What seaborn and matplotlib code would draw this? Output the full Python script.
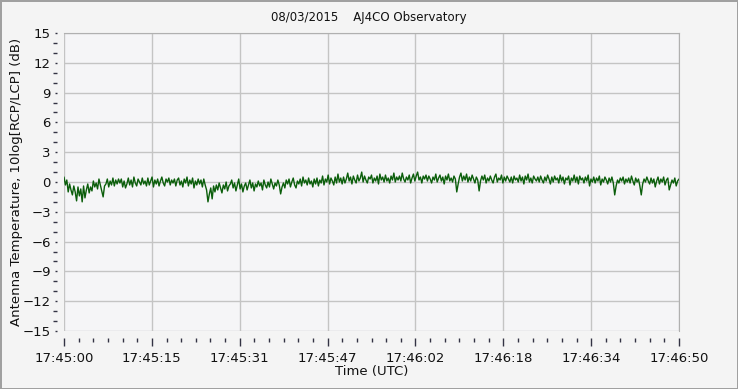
import numpy as np
import pandas as pd
import matplotlib
matplotlib.use("Agg")
import matplotlib.pyplot as plt
import seaborn as sns
from matplotlib.ticker import AutoMinorLocator, FixedLocator, FuncFormatter

# readings every 0.25 s (dB)
ratio_db = [
    0.5, -0.3, 0.2, -1.0, -0.2, -0.8, -1.3, -0.4, -1.0, -1.9, -0.5, -1.4, -0.7, -2.0, -0.4, -1.6, -0.8, -0.2, -1.1, -0.5,
    -0.9, 0.1, -0.5, -0.1, -0.7, 0.3, -0.3, -0.9, -1.5, -0.4, -0.2, 0.3, -0.5, 0.1, -0.3, 0.4, -0.4, 0.2, -0.2, 0.3,
    -0.1, 0.3, -0.5, 0.1, -0.6, -0.2, 0.4, -0.3, 0.2, -0.5, 0.5, -0.1, -0.4, 0.3, 0.0, -0.3, 0.4, -0.2, 0.1, -0.4,
    0.4, -0.3, 0.1, 0.5, -0.5, 0.2, -0.2, 0.3, -0.4, 0.1, 0.5, -0.1, -0.4, 0.3, 0.0, 0.4, -0.3, 0.2, -0.1, 0.3,
    -0.4, 0.2, 0.4, -0.3, 0.1, -0.5, 0.3, -0.1, 0.5, -0.4, 0.2, -0.2, 0.4, -0.6, 0.1, -0.3, 0.3, -0.2, 0.2, -0.5,
    0.3, -0.3, -0.8, -2.0, -1.2, -0.6, -1.7, -0.4, -1.0, -0.3, -0.8, -0.1, -0.6, -1.1, -0.3, -0.7, 0.0, -0.9, -0.4, -0.2,
    0.2, -0.6, -0.1, -0.9, -0.3, 0.3, -0.7, -0.2, -1.0, -0.4, -0.1, -0.8, -0.3, 0.2, -0.6, -0.1, -0.9, -0.2, -0.5, 0.1,
    -0.4, -0.1, -0.8, 0.2, -0.3, -0.6, 0.0, -0.5, 0.3, -0.2, -0.7, -0.1, -0.4, 0.2, -0.3, -1.2, -0.5, -0.1, -0.6, 0.2,
    -0.2, 0.3, -0.5, 0.0, 0.4, -0.3, -0.6, 0.1, -0.2, 0.3, -0.4, 0.5, -0.1, 0.2, -0.3, 0.4, -0.2, 0.1, -0.5, 0.3,
    -0.2, 0.4, -0.4, 0.2, -0.1, 0.6, -0.3, 0.3, 0.0, 0.7, -0.2, 0.4, 0.1, -0.3, 0.5, -0.1, 0.8, 0.0, 0.4, -0.2,
    0.5, -0.1, 0.3, 0.9, 0.1, 0.5, -0.2, 0.6, 0.2, -0.1, 0.7, 0.1, 0.4, 1.0, 0.0, 0.6, 0.2, -0.1, 0.5, 0.3,
    0.7, -0.1, 0.4, 0.1, 0.6, -0.2, 0.8, 0.2, 0.5, 0.0, 0.7, 0.1, 0.4, -0.1, 0.6, 0.2, 0.9, 0.0, 0.5, 0.2,
    0.6, 0.1, 0.9, 0.3, 0.0, 0.5, 0.2, 0.7, -0.1, 0.4, 0.8, 0.1, 0.6, 1.0, 0.2, 0.5, -0.1, 0.6, 0.3, 0.7,
    0.1, 0.6, 0.3, -0.1, 0.5, 0.2, 0.8, 0.0, 0.4, 0.7, 0.1, 0.5, -0.2, 0.6, 0.2, 0.8, 0.1, 0.4, 0.0, 0.6,
    0.3, -1.0, -0.2, 0.5, 0.9, 0.1, 0.6, 0.2, 0.8, 0.0, 0.5, 0.1, 0.7, 0.3, -0.1, 0.5, 0.2, -0.9, 0.1, 0.6,
    0.2, 0.7, -0.1, 0.4, 0.1, 0.6, 0.2, -0.1, 0.5, 0.8, 0.0, 0.4, 0.2, 0.7, -0.1, 0.5, 0.1, 0.6, 0.3, 0.0,
    0.5, -0.1, 0.6, 0.2, 0.4, 0.0, 0.7, 0.1, 0.5, -0.2, 0.6, 0.2, 0.8, 0.0, 0.4, -0.1, 0.6, 0.3, 0.1, 0.5,
    0.0, 0.6, 0.2, -0.1, 0.5, 0.1, 0.7, 0.3, -0.2, 0.5, 0.0, 0.6, 0.2, 0.4, -0.1, 0.7, 0.1, 0.5, -0.2, 0.4,
    0.2, 0.6, -0.3, 0.4, 0.1, 0.7, 0.0, 0.5, -0.2, 0.6, 0.2, 0.4, -0.1, 0.5, 0.1, 0.7, -0.4, 0.3, 0.0, 0.5,
    -0.1, 0.4, 0.1, 0.6, -0.3, 0.3, 0.0, 0.5, 0.2, -0.2, 0.4, 0.0, 0.5, -0.1, -1.3, -0.4, 0.2, -0.1, 0.4, 0.1,
    0.5, -0.2, 0.3, 0.0, 0.4, -0.1, 0.6, 0.1, -0.3, 0.4, 0.0, 0.3, -0.4, -1.3, -0.2, 0.3, 0.0, 0.5, 0.1, -0.2,
    0.4, -0.1, 0.3, -0.5, 0.1, 0.5, -0.2, 0.3, 0.0, 0.5, -0.3, 0.2, 0.4, -0.8, -0.3, 0.2, -0.1, 0.4, -0.4, 0.1,
    0.3,
]
seconds = np.arange(len(ratio_db)) * 0.25  # seconds after 17:45:00

start_h, start_m = 17, 45
x_ticks = np.linspace(0, 110, 8)
y_ticks = np.arange(-15, 16, 3)

df = pd.DataFrame({"t": seconds, "db": ratio_db})

sns.set_style("white")
plt.rcParams["font.family"] = ["DejaVu Sans"]

fig = plt.figure(figsize=(7.38, 3.89), dpi=100)
fig.patch.set_facecolor("#f4f4f4")
fig.patch.set_edgecolor("#a0a0a0")
fig.patch.set_linewidth(2)
ax = fig.add_axes([64 / 738, 1 - 331 / 389, 615 / 738, 298 / 389])
ax.set_facecolor("#f5f5f7")

sns.lineplot(data=df, x="t", y="db", ax=ax, color="#0b5e0b", linewidth=1.0)

ax.set_xlim(0, 110)
ax.set_ylim(-15, 15)

def fmt_time(v, pos):
    s = int(np.floor(v + 1e-6))
    m = start_m + s // 60
    return f"{start_h}:{m:02d}:{s % 60:02d}"

ax.xaxis.set_major_locator(FixedLocator(x_ticks))
ax.xaxis.set_major_formatter(FuncFormatter(fmt_time))
ax.xaxis.set_minor_locator(AutoMinorLocator(6))
ax.yaxis.set_major_locator(FixedLocator(y_ticks))
ax.yaxis.set_minor_locator(AutoMinorLocator(3))

ax.grid(True, which="major", color="#c4c4c4", linewidth=1)
for side in ["top", "right"]:
    ax.spines[side].set_color("#b0b0b0")
for side in ["left", "bottom"]:
    ax.spines[side].set_position(("outward", 5))
    ax.spines[side].set_visible(False)

ax.tick_params(which="both", bottom=True, left=True)
ax.tick_params(axis="x", which="major", length=6, width=1, color="#333344",
               labelsize=9.5, pad=4, labelcolor="#111111")
ax.tick_params(axis="x", which="minor", length=3, width=1, color="#333344")
ax.tick_params(axis="y", which="major", length=1.5, width=1, color="#333344",
               labelsize=9.5, pad=3, labelcolor="#111111")
ax.tick_params(axis="y", which="minor", length=3, width=1, color="#333344")

ax.set_xlabel("Time (UTC)", fontsize=9.5, labelpad=0, color="#111111")
ax.set_ylabel("Antenna Temperature, 10log[RCP/LCP] (dB)", fontsize=9.5,
              color="#111111")
ax.yaxis.set_label_coords(-0.067, 0.5)
fig.text(0.5, 1 - 18 / 389, "08/03/2015    AJ4CO Observatory", ha="center",
         va="center", fontsize=8.5, color="#111111")

fig.savefig("out.png", dpi=100, facecolor=fig.get_facecolor(),
            edgecolor=fig.get_edgecolor())
